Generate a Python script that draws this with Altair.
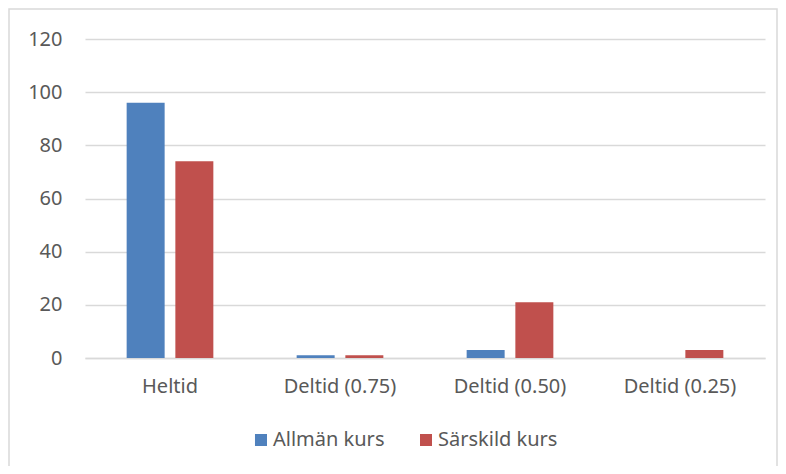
import altair as alt
import pandas as pd

categories = ["Heltid", "Deltid (0.75)", "Deltid (0.50)", "Deltid (0.25)"]
series_names = ["Allmän kurs", "Särskild kurs"]
allman = [96, 1, 3, 0]
sarskild = [74, 1, 21, 3]
colors = ["#4F81BD", "#C0504D"]
y_ticks = [0, 20, 40, 60, 80, 100, 120]

rows = []
for c, a, s in zip(categories, allman, sarskild):
    rows.append({"kategori": c, "serie": series_names[0], "värde": a})
    rows.append({"kategori": c, "serie": series_names[1], "värde": s})
df = pd.DataFrame(rows)

FONT = "Noto Sans"
FS = 20

bars = alt.Chart(df).mark_bar().encode(
    x=alt.X("kategori:N", sort=categories, title=None,
            scale=alt.Scale(paddingInner=0.49, paddingOuter=0.245),
            axis=alt.Axis(labelAngle=0, labelPadding=18, ticks=False,
                          domainColor="#D9D9D9", domainWidth=1.5,
                          labelFontSize=FS, labelColor="#595959", labelFont=FONT)),
    xOffset=alt.XOffset("serie:N", sort=series_names,
                        scale=alt.Scale(paddingInner=0.22, paddingOuter=0)),
    y=alt.Y("värde:Q", title=None,
            scale=alt.Scale(domain=[0, 120], nice=False),
            axis=alt.Axis(values=y_ticks, ticks=False, domain=False,
                          gridColor="#D9D9D9", gridWidth=1.5,
                          labelPadding=23, labelFontSize=FS,
                          labelColor="#595959", labelFont=FONT)),
    color=alt.Color("serie:N", sort=series_names,
                    scale=alt.Scale(domain=series_names, range=colors),
                    legend=alt.Legend(title=None, orient="none",
                                      direction="horizontal",
                                      legendX=166, legendY=391,
                                      symbolType="square", symbolSize=145,
                                      symbolStrokeWidth=0,
                                      labelFontSize=FS, labelColor="#595959",
                                      labelFont=FONT, columnPadding=31,
                                      labelOffset=2)),
)

border = alt.Chart(pd.DataFrame({"a": [0]})).mark_rect(
    fill=None, stroke="#D9D9D9", strokeWidth=1.5
).encode(
    x=alt.value(-76), x2=alt.value(692),
    y=alt.value(-30), y2=alt.value(440),
)

chart = alt.layer(border, bars).properties(
    width=680, height=319,
    padding={"left": 77, "top": 31, "right": 13, "bottom": 108},
    autosize="none",
).configure_view(stroke=None)

chart.save("out.html", embed_options={"renderer": "svg", "actions": False})
